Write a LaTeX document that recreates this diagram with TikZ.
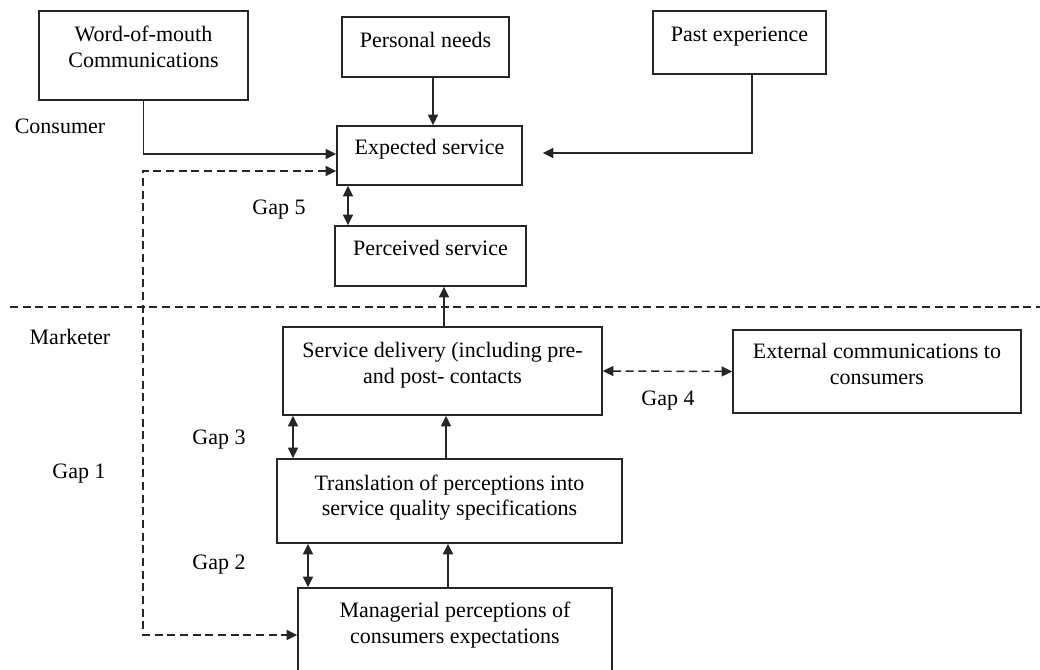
\documentclass[tikz,border=0pt]{standalone}
\usepackage{fontspec}
\setmainfont{Liberation Serif}
\usetikzlibrary{arrows.meta}
\begin{document}
\begin{tikzpicture}[x=0.75pt,y=-0.75pt,
  box/.style={draw=black!85, line width=1.1pt, rectangle, inner sep=0pt},
  txt/.style={font=\fontsize{16.5}{19.5}\selectfont, align=center, anchor=base, inner sep=0pt},
  arr/.style={draw=black!85, line width=1.1pt, -{Triangle[length=8pt,width=7.5pt]}},
  darr/.style={draw=black!85, line width=1.1pt, {Triangle[length=8pt,width=7.5pt]}-{Triangle[length=8pt,width=7.5pt]}},
  dsh/.style={dash pattern=on 6pt off 3.5pt}]
\useasboundingbox (0,0) rectangle (1040,670);
\clip (0,0) rectangle (1040,670);

% boxes
\node[box, minimum width=156.75pt, minimum height=66.75pt] (wom)  at (143.5,55.5) {};
\node[box, minimum width=125.25pt, minimum height=45pt]    (pn)   at (425.5,47) {};
\node[box, minimum width=129.75pt, minimum height=47.25pt] (pe)   at (739.5,42.5) {};
\node[box, minimum width=138.75pt, minimum height=44.25pt] (exp)  at (429.5,155.5) {};
\node[box, minimum width=143.25pt, minimum height=45pt]    (perc) at (430.5,256) {};
\node[box, minimum width=239.25pt, minimum height=66pt]    (sd)   at (442.5,371) {};
\node[box, minimum width=216pt,    minimum height=62.25pt] (ext)  at (877,371.5) {};
\node[box, minimum width=258.75pt, minimum height=63pt]    (tr)   at (449.5,501) {};
\node[box, minimum width=235.5pt,  minimum height=84pt]    (mgr)  at (455,644) {};

% box texts (base = baseline of last line)
\node[txt] (womt)  at (143.5,68) {Word-of-mouth\\Communications};
\node[txt] (pnt)   at (425.5,48) {Personal needs};
\node[txt] (pet)   at (739.5,42) {Past experience};
\node[txt] (expt)  at (429.5,155) {Expected service};
\node[txt] (perct) at (430.5,256) {Perceived service};
\node[txt] (sdt)   at (442.5,384) {Service delivery (including pre-\\and post- contacts};
\node[txt] (extt)  at (877,385) {External communications to\\consumers};
\node[txt] (trt)   at (449.5,516) {Translation of perceptions into\\service quality specifications};
\node[txt] (mgrt)  at (455,643) {Managerial perceptions of\\consumers expectations};

% free labels
\node[txt] (cons) at (60,134) {Consumer};
\node[txt] (mark) at (70,345) {Marketer};
\node[txt] (g5) at (279,215) {Gap 5};
\node[txt] (g3) at (219,445) {Gap 3};
\node[txt] (g1) at (79,479) {Gap 1};
\node[txt] (g2) at (219,569) {Gap 2};
\node[txt] (g4) at (668,406) {Gap 4};

% divider
\coordinate (dl) at (10,307);
\coordinate (dr) at (1040,307);
\draw[dsh, draw=black!85, line width=1.1pt] (dl) -- (dr);

% connectors
\coordinate (yw) at (0,154);
\draw[arr] (wom.south) |- (exp.west |- yw);
\coordinate (xpn) at (433,0);
\draw[arr] (pn.south -| xpn) -- (exp.north -| xpn);
\coordinate (xpe) at (752,0);
\coordinate (ype) at (0,153);
\draw[arr, shorten >=15pt] (pe.south -| xpe) |- (exp.east |- ype);
\coordinate (gA) at (143,171);
\coordinate (gB) at (143,635);
\draw[darr, dsh] (gA -| exp.west) -- (gA) -- (gB) -- (gB -| mgr.west);
\coordinate (x5) at (348,0);
\draw[darr] (exp.south -| x5) -- (perc.north -| x5);
\coordinate (xup) at (444,0);
\draw[arr] (sd.north -| xup) -- (perc.south -| xup);
\draw[darr, dsh] (sd.east) -- (ext.west);
\coordinate (x3) at (293,0);
\draw[darr] (sd.south -| x3) -- (tr.north -| x3);
\coordinate (xtr) at (446,0);
\draw[arr] (tr.north -| xtr) -- (sd.south -| xtr);
\coordinate (x2) at (308,0);
\draw[darr] (tr.south -| x2) -- (mgr.north -| x2);
\coordinate (xm) at (448,0);
\draw[arr] (mgr.north -| xm) -- (tr.south -| xm);
\end{tikzpicture}
\end{document}
